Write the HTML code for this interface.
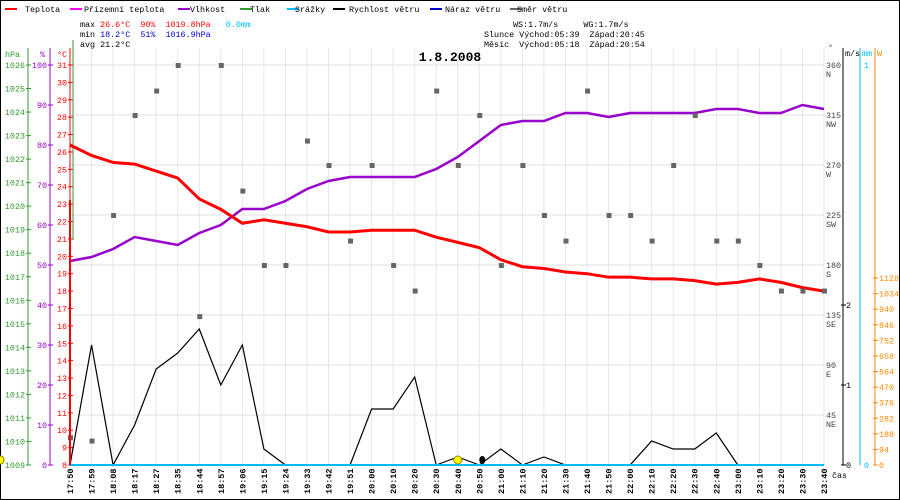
<!DOCTYPE html>
<html><head><meta charset="utf-8"><style>
body{margin:0;background:#fff}
svg{display:block;font-family:"Liberation Mono",monospace;font-size:8.4px}
svg text{white-space:pre}
</style></head><body>
<svg id="c" width="900" height="500" xml:space="preserve"></svg>
<script>
const labels=["17:50","17:59","18:08","18:17","18:27","18:35","18:44","18:57","19:06","19:15","19:24","19:33","19:42","19:51","20:00","20:10","20:20","20:30","20:40","20:50","21:00","21:10","21:20","21:30","21:40","21:50","22:00","22:10","22:20","22:30","22:40","23:00","23:10","23:20","23:30","23:40"];
const temp=[26.4,25.8,25.4,25.3,24.9,24.5,23.3,22.7,21.9,22.1,21.9,21.7,21.4,21.4,21.5,21.5,21.5,21.1,20.8,20.5,19.8,19.4,19.3,19.1,19.0,18.8,18.8,18.7,18.7,18.6,18.4,18.5,18.7,18.5,18.2,18.0];
const hum=[51,52,54,57,56,55,58,60,64,64,66,69,71,72,72,72,72,74,77,81,85,86,86,88,88,87,88,88,88,88,89,89,88,88,90,89];
const wind=[0,1.5,0,0.5,1.2,1.4,1.7,1.0,1.5,0.2,0,0,0,0,0.7,0.7,1.1,0,0.1,0,0.2,0,0.1,0,0,0,0,0.3,0.2,0.2,0.4,0,0,0,0,0];
const dir=[25,22,225,315,337,360,134,360,247,180,180,292,270,202,270,180,157,337,270,315,180,270,225,202,337,225,225,202,270,315,202,202,180,157,157,157];
const hpaTicks=[1026,1025,1024,1023,1022,1021,1020,1019,1018,1017,1016,1015,1014,1013,1012,1011,1010,1009];
const dirTicks=[[360,"N"],[315,"NW"],[270,"W"],[225,"SW"],[180,"S"],[135,"SE"],[90,"E"],[45,"NE"]];
const wTicks=[0,94,188,282,376,470,564,658,752,846,940,1034,1128];

const svg=document.getElementById('c'),NS="http://www.w3.org/2000/svg";
function el(t,a,name,txt){const e=document.createElementNS(NS,t);for(const k in a)e.setAttribute(k,a[k]);


if(txt!==undefined)e.textContent=txt;svg.appendChild(e);return e;}
const X0=70,X1=824,Y0=465,Y1=65;
const xs=i=>X0+i*(X1-X0)/(labels.length-1);
const yT=t=>Y0-(t-8)*(Y0-Y1)/23;
const yH=h=>Y0-h*(Y0-Y1)/100;
const yP=p=>Y0-(p-1009)*(Y0-Y1)/17;
const yW=v=>Y0-v*80;
const yD=d=>Y0-d*(Y0-Y1)/360;
const yWatt=w=>Y0-w*(187/1128);

el('rect',{x:0.5,y:0.5,width:899,height:499,fill:'#fff',stroke:'#000'},'frame');
dirTicks.forEach(d=>el('line',{x1:X0,x2:X1,y1:yD(d[0]),y2:yD(d[0]),stroke:'#e0e0e0'},'grid-h'));
labels.forEach((l,i)=>el('line',{x1:xs(i),x2:xs(i),y1:48,y2:Y0,stroke:'#e6e6e6'},'grid-v'));
const leg=[["Teplota","#f00",5,25],["Přízemní teplota","#f0f",70,84],["Vlhkost","#90c",178,190],["Tlak","#393",240,250],["Srážky","#0bf",287,295],["Rychlost větru","#000",333,349],["Náraz větru","#00c",430,445],["Směr větru","#666",510,517]];
leg.forEach(l=>{el('line',{x1:l[2],x2:l[2]+12,y1:9,y2:9,stroke:l[1],'stroke-width':2},'legend-swatch');el('text',{x:l[3],y:12},'legend-entry',l[0]);});
el('text',{x:80,y:27},'info-max').innerHTML='max <tspan fill="#f00">26.6°C  90%  1019.8hPa</tspan>   <tspan fill="#0bf">0.0mm</tspan>';
el('text',{x:80,y:37},'info-min').innerHTML='min <tspan fill="#00c">18.2°C  51%  1016.9hPa</tspan>';
el('text',{x:80,y:47},'info-avg','avg 21.2°C');
el('text',{x:513,y:27},'info-wind','WS:1.7m/s     WG:1.7m/s');
el('text',{x:484,y:37},'info-sun','Slunce Východ:05:39  Západ:20:45');
el('text',{x:484,y:47},'info-moon','Měsíc  Východ:05:18  Západ:20:54');
el('text',{x:450,y:61,'text-anchor':'middle','font-weight':'bold','font-size':'13px'},'chart-title','1.8.2008');
el('line',{x1:28,x2:28,y1:48,y2:Y0,stroke:'#393'},'hpa-axis');
el('text',{x:5,y:57,fill:'#393'},'hpa-unit','hPa');
hpaTicks.forEach(p=>{el('line',{x1:26,x2:31,y1:yP(p),y2:yP(p),stroke:'#393'},'hpa-tick');el('text',{x:25,y:yP(p)+3,fill:'#393','text-anchor':'end'},'hpa-label',p);});
el('line',{x1:50,x2:50,y1:48,y2:Y0,stroke:'#90c'},'hum-axis');
el('text',{x:40,y:57,fill:'#90c'},'hum-unit','%');
for(let h=0;h<=100;h+=10){el('line',{x1:48,x2:53,y1:yH(h),y2:yH(h),stroke:'#90c'},'hum-tick');el('text',{x:47,y:yH(h)+3,fill:'#90c','text-anchor':'end'},'hum-label',h);}
el('line',{x1:70,x2:70,y1:48,y2:Y0,stroke:'#f00'},'temp-axis');
el('text',{x:57,y:57,fill:'#f00'},'temp-unit','°C');
for(let t=8;t<=31;t++){el('line',{x1:68,x2:73,y1:yT(t),y2:yT(t),stroke:'#f00'},'temp-tick');el('text',{x:67,y:yT(t)+3,fill:'#f00','text-anchor':'end'},'temp-label',t);}
el('line',{x1:73,x2:73,y1:40,y2:240,stroke:'#393'},'pressure-line');
dirTicks.forEach(d=>{el('text',{x:826,y:yD(d[0])+3,fill:'#444'},'dir-label',d[0]);el('text',{x:826,y:yD(d[0])+12,fill:'#444'},'dir-label',d[1]);});
el('text',{x:828,y:50,fill:'#444'},'dir-unit','°');
el('line',{x1:843,x2:843,y1:48,y2:Y0,stroke:'#000'},'wind-axis');
el('text',{x:845,y:56},'wind-unit','m/s');
[0,1,2].forEach(v=>{el('line',{x1:841,x2:846,y1:yW(v),y2:yW(v),stroke:'#000'},'wind-tick');el('text',{x:846,y:yW(v)+3},'wind-label',v);});
el('line',{x1:860,x2:860,y1:48,y2:Y0,stroke:'#0bf'},'rain-axis');
el('text',{x:862,y:56,fill:'#0bf'},'rain-unit','mm');
[[0,Y0],[1,65]].forEach(r=>el('text',{x:864,y:r[1]+3,fill:'#0bf'},'rain-label',r[0]));
el('line',{x1:875,x2:875,y1:48,y2:Y0,stroke:'#f80'},'solar-axis');
el('text',{x:877,y:56,fill:'#f80'},'solar-unit','W');
wTicks.forEach(w=>{el('line',{x1:873,x2:878,y1:yWatt(w),y2:yWatt(w),stroke:'#f80'},'solar-tick');el('text',{x:879,y:yWatt(w)+3,fill:'#f80'},'solar-label',w);});
el('text',{x:832,y:478},'time-unit','čas');
labels.forEach((l,i)=>el('text',{x:0,y:0,transform:`translate(${xs(i)+3},${494}) rotate(-90)`,'font-weight':'bold','font-size':'8.5px'},'x-label',l));
const pl=(arr,fy)=>arr.map((v,i)=>xs(i)+','+fy(v)).join(' ');
el('polyline',{points:pl(wind,yW),fill:'none',stroke:'#000','stroke-width':1.2},'wind-speed-line');
el('line',{x1:X0,x2:X1,y1:Y0,y2:Y0,stroke:'#0bf','stroke-width':2},'rain-line');
el('polyline',{points:pl(hum,yH),fill:'none',stroke:'#90c','stroke-width':2.5},'humidity-line');
el('polyline',{points:pl(temp,yT),fill:'none',stroke:'#f00','stroke-width':3},'temperature-line');
dir.forEach((d,i)=>el('rect',{x:xs(i)-2,y:yD(d)-2,width:5,height:5,fill:'#666'},'wind-dir-point'));
el('line',{x1:X0,x2:X0,y1:200,y2:Y0,stroke:'#f00','stroke-width':2},'temp-edge');
el('ellipse',{cx:xs(18),cy:460,rx:4,ry:4,fill:'#ff0',stroke:'#880'},'sun-marker');
el('ellipse',{cx:xs(19)+3,cy:460,rx:3,ry:4,fill:'#000'},'moon-marker');
el('ellipse',{cx:1,cy:460,rx:3,ry:4,fill:'#ff0',stroke:'#880'},'sun-left-marker');
</script>
</body></html>
